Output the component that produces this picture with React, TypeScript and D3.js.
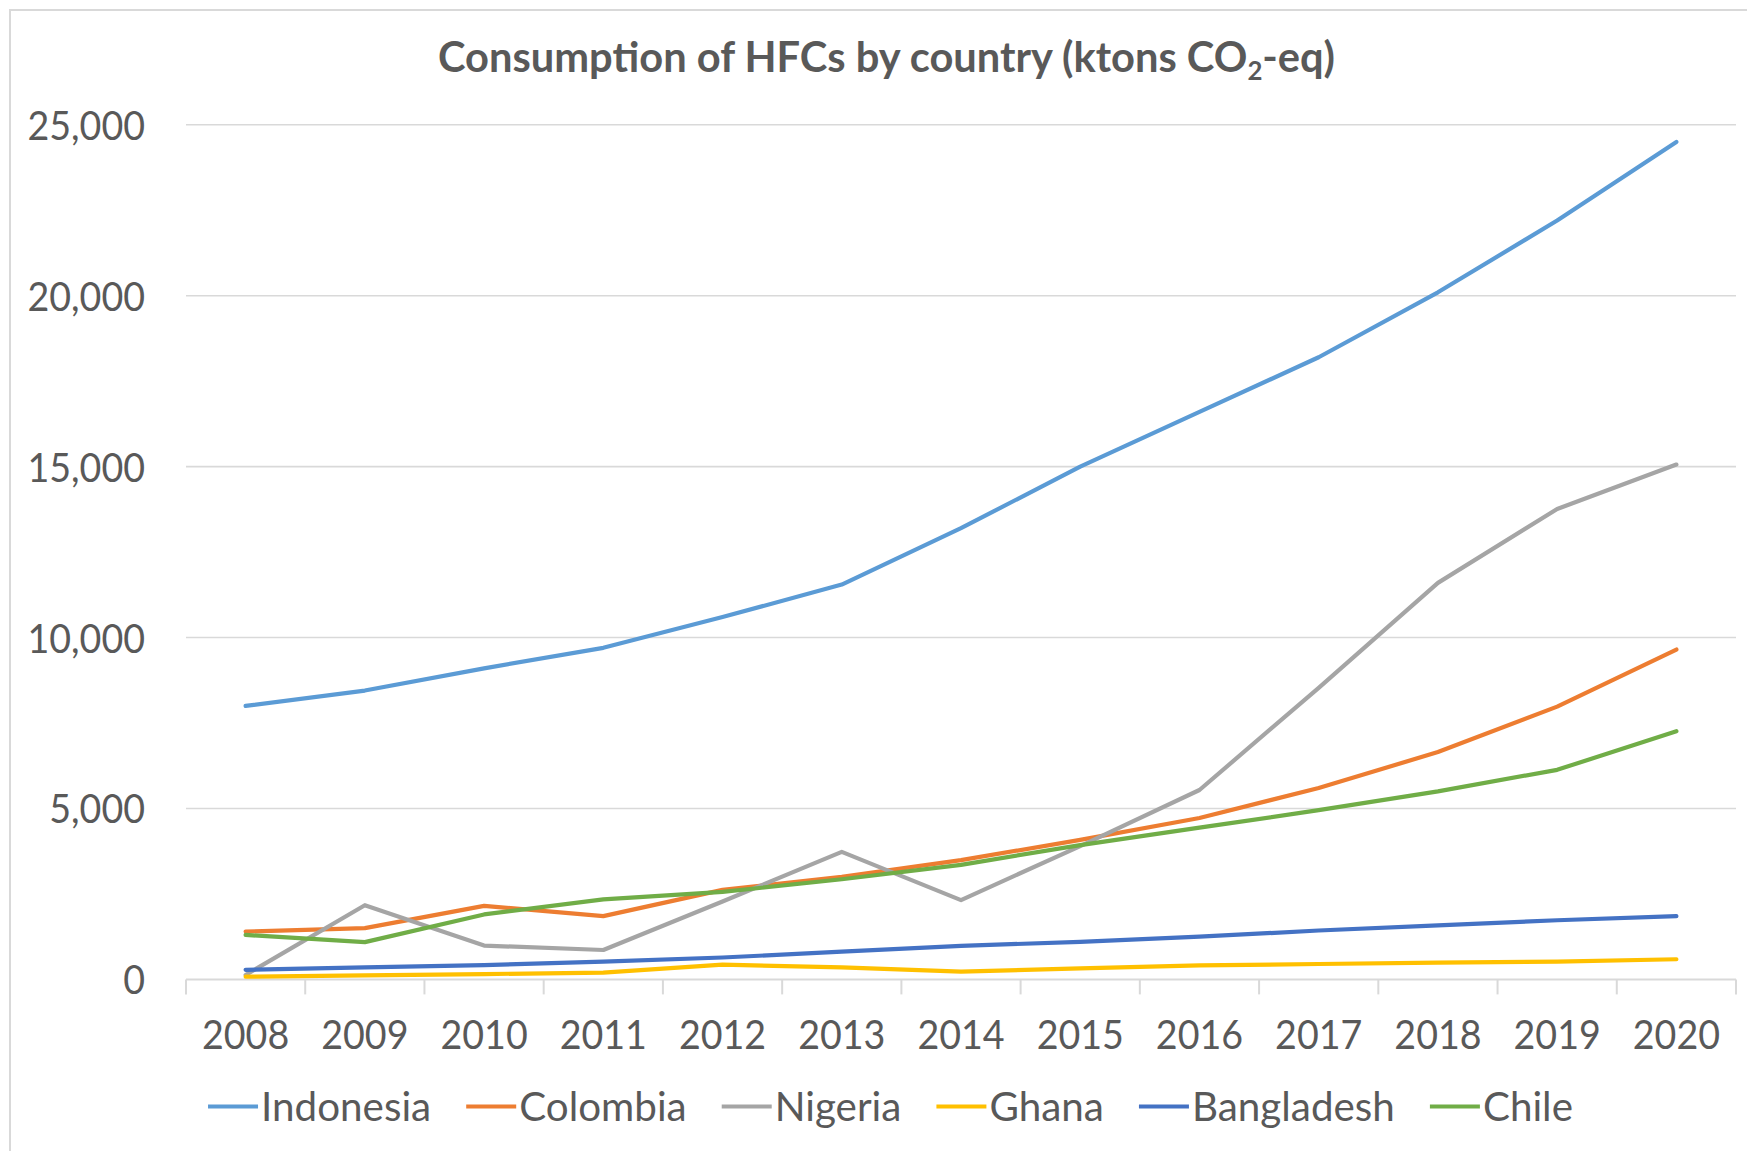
import React, { useEffect, useRef } from "react";
import * as d3 from "d3";

const years = ["2008", "2009", "2010", "2011", "2012", "2013", "2014", "2015", "2016", "2017", "2018", "2019", "2020"];
const indonesia = [8000, 8450, 9100, 9700, 10600, 11550, 13200, 15000, 16600, 18200, 20100, 22200, 24500];
const colombia = [1400, 1500, 2150, 1850, 2620, 3000, 3490, 4080, 4720, 5600, 6650, 7980, 9650];
const nigeria = [130, 2170, 990, 860, 2280, 3730, 2320, 3900, 5540, 8530, 11600, 13760, 15060];
const ghana = [80, 120, 155, 200, 430, 350, 230, 320, 410, 450, 490, 520, 590];
const bangladesh = [280, 350, 420, 520, 640, 810, 980, 1100, 1250, 1430, 1580, 1730, 1850];
const chile = [1300, 1090, 1900, 2340, 2560, 2930, 3350, 3930, 4440, 4950, 5500, 6130, 7260];

const seriesNames = ["Indonesia", "Colombia", "Nigeria", "Ghana", "Bangladesh", "Chile"];
const seriesValues = [indonesia, colombia, nigeria, ghana, bangladesh, chile];
const seriesColors = ["#5B9BD5", "#ED7D31", "#A5A5A5", "#FFC000", "#4472C4", "#70AD47"];
const yTicks = [0, 5000, 10000, 15000, 20000, 25000];
const titleMain = "Consumption of HFCs by country (ktons CO";
const titleSub = "2";
const titleEnd = "-eq)";

const W = 1747;
const H = 1151;
const FONT = "Lato, 'Open Sans', sans-serif";
const TEXT = "#595959";
const GRID = "#D9D9D9";
const KX = 0.94;
const LKX = 0.985;

export default function App() {
  const ref = useRef<SVGSVGElement | null>(null);

  useEffect(() => {
    const draw = () => {
      const svg = d3.select(ref.current);
      svg.selectAll("*").remove();

      const left = 186, right = 1736, top = 124.8, bottom = 979.4;
      const x = d3.scaleBand<string>().domain(years).range([left, right]).padding(0);
      const y = d3.scaleLinear().domain([0, 25000]).range([bottom, top]);

      svg.append("rect").attr("x", 0).attr("y", 0).attr("width", W).attr("height", H).attr("fill", "#fff");
      svg.append("rect").attr("x", 10).attr("y", 10).attr("width", 1800).attr("height", 1300)
        .attr("fill", "none").attr("stroke", GRID).attr("stroke-width", 2);

      // title
      const t = svg.append("text").attr("x", 886.5).attr("y", 72)
        .attr("text-anchor", "middle").attr("font-family", FONT).attr("font-weight", 700)
        .attr("font-size", 42).attr("fill", TEXT)
        .attr("textLength", 897).attr("lengthAdjust", "spacingAndGlyphs");
      t.append("tspan").text(titleMain);
      t.append("tspan").attr("font-size", 26).attr("dy", 8).text(titleSub);
      t.append("tspan").attr("dy", -8).text(titleEnd);

      // gridlines
      svg.append("g").selectAll("line").data(yTicks.filter(d => d > 0)).join("line")
        .attr("x1", left).attr("x2", right)
        .attr("y1", d => y(d)).attr("y2", d => y(d))
        .attr("stroke", GRID).attr("stroke-width", 1.6);

      // y labels
      svg.append("g").selectAll("g").data(yTicks).join("g")
        .attr("transform", d => `translate(145,${y(d) + 15}) scale(${KX},1)`)
        .append("text").attr("text-anchor", "end").attr("font-family", FONT)
        .attr("font-size", 40).attr("fill", TEXT).text(d => d3.format(",")(d));

      // x axis
      svg.append("line").attr("x1", left).attr("x2", right).attr("y1", bottom).attr("y2", bottom)
        .attr("stroke", GRID).attr("stroke-width", 2);
      const bounds = years.map(d => x(d) as number).concat([right]);
      svg.append("g").selectAll("line").data(bounds).join("line")
        .attr("x1", d => d).attr("x2", d => d).attr("y1", bottom).attr("y2", bottom + 15)
        .attr("stroke", GRID).attr("stroke-width", 2);
      svg.append("g").selectAll("g").data(years).join("g")
        .attr("transform", d => `translate(${(x(d) as number) + x.bandwidth() / 2},1049) scale(${KX},1)`)
        .append("text").attr("text-anchor", "middle").attr("font-family", FONT)
        .attr("font-size", 40).attr("fill", TEXT).text(d => d);

      // lines
      const line = d3.line<number>()
        .x((_, i) => (x(years[i]) as number) + x.bandwidth() / 2)
        .y(d => y(d));
      svg.append("g").selectAll("path").data(seriesValues).join("path")
        .attr("d", d => line(d))
        .attr("fill", "none")
        .attr("stroke", (_, i) => seriesColors[i])
        .attr("stroke-width", 4.2)
        .attr("stroke-linejoin", "round")
        .attr("stroke-linecap", "round");

      // legend
      const lg = svg.append("g");
      const symW = 50, symGap = 3, itemGap = 35;
      const items = seriesNames.map((name, i) => {
        const g = lg.append("g");
        const tx = g.append("g").append("text").attr("font-family", FONT).attr("font-size", 41)
          .attr("fill", TEXT).text(name);
        const w = (tx.node() as SVGTextElement).getComputedTextLength() * LKX;
        return { g, tx, w, i };
      });
      const total = items.reduce((s, it) => s + symW + symGap + it.w, 0) + itemGap * (items.length - 1);
      let cx = 890.5 - total / 2;
      const ly = 1106.5;
      items.forEach(it => {
        it.g.append("line").attr("x1", cx).attr("x2", cx + symW).attr("y1", ly).attr("y2", ly)
          .attr("stroke", seriesColors[it.i]).attr("stroke-width", 4.2);
        (it.tx.node() as SVGTextElement).parentElement!.setAttribute(
          "transform", `translate(${cx + symW + symGap},${ly + 14.5}) scale(${LKX},1)`);
        cx += symW + symGap + it.w + itemGap;
      });
    };
    if ((document as any).fonts && (document as any).fonts.ready) {
      (document as any).fonts.ready.then(draw);
    } else {
      draw();
    }
  }, []);

  return (
    <svg ref={ref} width={W} height={H} style={{ position: "absolute", left: 0, top: 0 }} />
  );
}
